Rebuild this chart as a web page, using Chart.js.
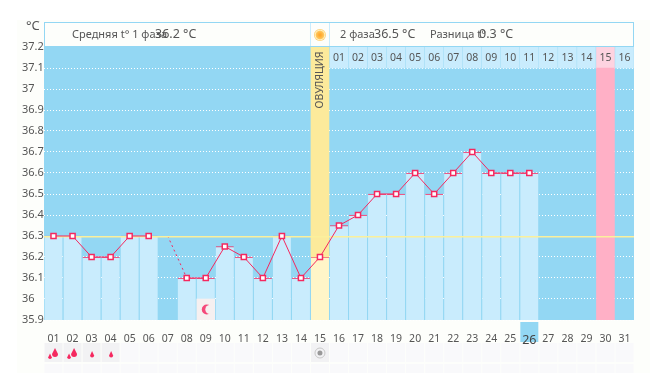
<!DOCTYPE html>
<html>
<head>
<meta charset="utf-8">
<script src="https://cdn.jsdelivr.net/npm/chart.js@4"></script>
<style>
  html, body { margin: 0; padding: 0; background: #fff; }
  canvas { display: block; }
</style>
</head>
<body>
<canvas id="bbtChart" width="662" height="373"></canvas>
<script>
const days = ['01','02','03','04','05','06','07','08','09','10','11','12','13','14','15','16',
  '17','18','19','20','21','22','23','24','25','26','27','28','29','30','31'];
const temps = [36.3,36.3,36.2,36.2,36.3,36.3,null,36.1,36.1,36.25,36.2,36.1,36.3,36.1,36.2,36.35,
  36.4,36.5,36.5,36.6,36.5,36.6,36.7,36.6,36.6,36.6,null,null,null,null,null];
// день 07 без замера, только пунктир
const gapTemps = [null,null,null,null,null,null,36.3,36.1];
const cycleLabels = ['01','02','03','04','05','06','07','08','09','10','11','12','13','14','15','16'];
const cycleStart = '16';
const ovulationDay = '15';
const ovulationTemp = 36.2;
const pinkDay = '30';
const today = '26';
const moonDay = '09';
const coverLine = 36.3;
const dropDays = ['01','02','03','04'];
const dropSizes = [2,2,1,1];
const yMin = 35.9, yMax = 37.2, yHead = 37.1;
const ovulationText = 'ОВУЛЯЦИЯ';
const headerTexts = [
  ['Средняя t° 1 фаза', 72, 11], ['36.2 °C', 155, 12.5],
  ['2 фаза', 340, 11], ['36.5 °C', 374, 12.5],
  ['Разница t°', 430, 11], ['0.3 °C', 479, 12.5]
];

const FONT = '"Noto Sans", sans-serif';
const RED = '#f5285f';
const TEXT = '#555';

function only(day, val) { return days.map(d => d === day ? val : null); }

// рисует подложку, шапку и нижние ряды
const background = {
  id: 'background',
  beforeDraw(chart) {
    const { ctx, chartArea: a, scales: { x, y } } = chart;
    ctx.save();
    ctx.fillStyle = '#fdfefb';
    ctx.fillRect(17, 20, 633, 353);
    ctx.fillStyle = '#93d7f3';
    ctx.fillRect(a.left, a.top, a.width, a.height);

    // шапка
    ctx.fillStyle = '#fdfefb';
    ctx.fillRect(a.left, 23, a.width, 23);
    ctx.fillStyle = '#93d7f3';
    ctx.fillRect(a.left, 22, a.width, 1);
    ctx.fillRect(a.left, 46, a.width, 1);
    ctx.fillRect(a.left, 22, 1, 25);
    ctx.fillRect(a.right - 1, 22, 1, 25);
    const ox = x.getPixelForValue(days.indexOf(ovulationDay));
    ctx.fillStyle = '#c9ecfd';
    ctx.fillRect(ox - 10, 23, 1, 23);
    ctx.fillRect(ox + 9, 23, 1, 23);

    // нижние ряды
    days.forEach((d, i) => {
      const cx = x.getPixelForValue(i);
      ctx.fillStyle = d === ovulationDay || dropDays.includes(d) ? '#f2f2f4' : '#f9f9fb';
      ctx.fillRect(cx - 9, 343, 18, 19);
      ctx.fillStyle = '#f9f9fb';
      ctx.fillRect(cx - 9, 364, 18, 9);
    });

    // сегодня
    const tx = x.getPixelForValue(days.indexOf(today));
    ctx.fillStyle = '#93d7f3';
    ctx.fillRect(tx - 9, 322, 18, 20);
    ctx.restore();
  },
  beforeDatasetDraw(chart, args) {
    // линия 36.3 идет под красным графиком
    if (args.index !== 0) return;
    const { ctx, chartArea: a, scales: { y } } = chart;
    const py = Math.round(y.getPixelForValue(coverLine));
    ctx.save();
    ctx.fillStyle = '#fbf09c';
    ctx.fillRect(a.left, py, a.width, 1.5);
    ctx.restore();
  },
  afterDatasetsDraw(chart) {
    const { ctx, chartArea: a, scales: { x, y } } = chart;
    ctx.save();
    ctx.fillStyle = TEXT;
    ctx.textBaseline = 'middle';

    ctx.textAlign = 'left';
    ctx.font = '13px ' + FONT;
    ctx.fillText('°C', 26, 26);
    headerTexts.forEach(([t, px, size]) => {
      ctx.font = size + 'px ' + FONT;
      ctx.fillText(t, px, 34.5);
    });

    // числа второго цикла в верхнем ряду
    ctx.textAlign = 'center';
    ctx.font = '10.5px ' + FONT;
    const first = days.indexOf(cycleStart);
    cycleLabels.forEach((t, i) => {
      ctx.fillText(t, x.getPixelForValue(first + i), 58.5);
    });

    // овуляция
    const ox = x.getPixelForValue(days.indexOf(ovulationDay));
    ctx.save();
    ctx.translate(ox, 80);
    ctx.rotate(-Math.PI / 2);
    ctx.font = '10.5px ' + FONT;
    ctx.fillText(ovulationText, 0, 0);
    ctx.restore();

    // солнце
    let g = ctx.createRadialGradient(ox, 35, 1, ox, 35, 6);
    g.addColorStop(0, '#ffa92e');
    g.addColorStop(0.55, '#ffc55a');
    g.addColorStop(0.75, '#fff0c0');
    g.addColorStop(1, '#fcc860');
    ctx.fillStyle = g;
    ctx.beginPath();
    ctx.arc(ox, 35, 6, 0, Math.PI * 2);
    ctx.fill();

    // серый значок овуляции внизу
    ctx.strokeStyle = '#c8c8c8';
    ctx.beginPath();
    ctx.arc(ox, 353, 5, 0, Math.PI * 2);
    ctx.stroke();
    ctx.fillStyle = '#999';
    ctx.beginPath();
    ctx.arc(ox, 353, 2.5, 0, Math.PI * 2);
    ctx.fill();

    // луна
    const mx = x.getPixelForValue(days.indexOf(moonDay));
    const my = y.getPixelForValue(35.95);
    ctx.fillStyle = '#f5487a';
    ctx.beginPath();
    ctx.arc(mx + 1, my, 5, 0, Math.PI * 2);
    ctx.fill();
    ctx.fillStyle = '#f6f0f0';
    ctx.beginPath();
    ctx.arc(mx + 4, my, 4.5, 0, Math.PI * 2);
    ctx.fill();

    // капли
    ctx.fillStyle = '#f5285f';
    dropDays.forEach((d, i) => {
      const cx = x.getPixelForValue(days.indexOf(d));
      if (dropSizes[i] === 2) {
        drop(ctx, cx + 1.5, 352, 3, 8);
        drop(ctx, cx - 3.5, 356, 1.8, 5);
      } else {
        drop(ctx, cx + 0.5, 354, 2, 6);
      }
    });
    ctx.restore();
  }
};

function drop(ctx, cx, cy, w, h) {
  ctx.beginPath();
  ctx.moveTo(cx, cy - h / 2);
  ctx.lineTo(cx + w, cy + h / 4);
  ctx.arc(cx, cy + h / 4, w, 0, Math.PI);
  ctx.closePath();
  ctx.fill();
}

function barSet(data, color, order, border) {
  return {
    type: 'bar',
    data: data,
    backgroundColor: color,
    borderColor: border || color,
    borderWidth: border ? { top: 1, left: 0, right: 0, bottom: 0 } : 0,
    barThickness: 18,
    grouped: false,
    order: order
  };
}

const headCells = days.map((d, i) => i >= days.indexOf(cycleStart) && d !== pinkDay ? [yHead, yMax] : null);

new Chart(document.getElementById('bbtChart').getContext('2d'), {
  data: {
    labels: days,
    datasets: [
      {
        type: 'line',
        data: temps,
        borderColor: RED,
        borderWidth: 1,
        tension: 0,
        pointStyle: 'rect',
        pointRadius: 3.6,
        pointBorderWidth: 1.5,
        pointBorderColor: RED,
        pointBackgroundColor: '#fff',
        order: 1
      },
      {
        type: 'line',
        data: gapTemps,
        borderColor: RED,
        borderWidth: 1,
        borderDash: [2, 3],
        pointRadius: 0,
        order: 2
      },
      barSet(only(moonDay, [yMin, 36]), '#f6f0f0', 3),
      barSet(temps.map(v => v === null || v === ovulationTemp && false ? null : [yMin, v]), '#c9ecfd', 5, RED),
      barSet(only(ovulationDay, [ovulationTemp, yMax]), '#fcea9b', 4),
      barSet(only(ovulationDay, [yMin, ovulationTemp]), '#fff5c8', 4, RED),
      barSet(only(pinkDay, [yMin, yHead]), '#ffb0c6', 6),
      barSet(only(pinkDay, [yHead, yMax]), '#fdd3e0', 6),
      barSet(headCells, '#c9ecfd', 6)
    ]
  },
  options: {
    responsive: false,
    animation: false,
    layout: { padding: { left: 22, top: 47, right: 28, bottom: 0 } },
    plugins: { legend: { display: false }, tooltip: { enabled: false } },
    scales: {
      x: {
        grid: { display: false },
        border: { display: false },
        afterFit(scale) { scale.height = 53; },
        ticks: {
          autoSkip: false,
          maxRotation: 0,
          padding: 5,
          color: ctx => ctx.index === days.indexOf(today) ? '#444' : TEXT,
          font: ctx => ({
            family: FONT,
            size: ctx.index === days.indexOf(today) ? 12.5 : 10.5
          })
        }
      },
      y: {
        min: yMin,
        max: yMax,
        border: { display: false },
        afterFit(scale) { scale.width = 22; },
        grid: {
          drawTicks: false,
          color: ctx => ctx.tick && ctx.tick.value > yMax - 0.05 ? 'rgba(0,0,0,0)' : '#ffffff',
          lineWidth: 1
        },
        border: { display: false, dash: [1, 2] },
        ticks: {
          stepSize: 0.1,
          crossAlign: 'far',
          padding: 0,
          color: TEXT,
          font: { family: FONT, size: 11 },
          callback: v => String(Number(v.toFixed(1)))
        }
      }
    }
  },
  plugins: [background]
});
</script>
</body>
</html>
